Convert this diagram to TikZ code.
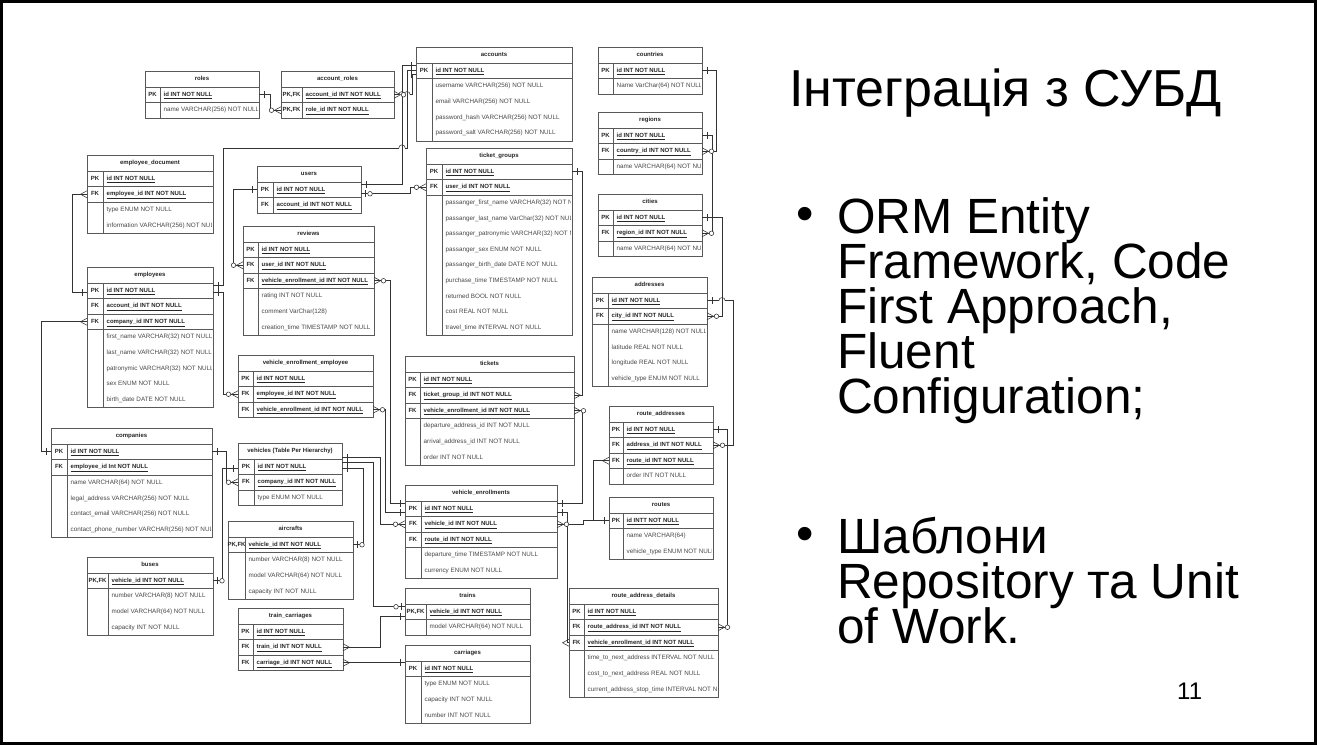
\documentclass[tikz,border=0pt]{standalone}
\usepackage{fontspec}
\setmainfont{Liberation Sans}
\usetikzlibrary{calc}
\def\pkfk{PK,FK}
\newcommand\tfont{\fontsize{6.0}{6.8}\selectfont}
\newcommand\pfont{\fontsize{6.3}{7}\selectfont}
\newcommand\bodyfont{\fontsize{49.5}{50}\selectfont}
\tikzset{
 tbl/.style={draw=black!65, line width=0.55pt},
 ttl/.style={tbl, inner sep=0pt, outer sep=0pt, minimum height=16pt, font=\tfont\bfseries, text=black!85, text height=4.4pt, text depth=1.2pt},
 krow/.style={tbl, inner sep=0pt, outer sep=0pt, minimum height=15.5pt},
 klbl/.style={inner sep=0pt, font=\tfont\bfseries, text=black!85, text height=4.4pt, text depth=1.2pt},
 ktxt/.style={inner sep=0pt, anchor=west, font=\tfont\bfseries, text=black!85, text height=4.4pt, text depth=1.2pt},
 ptxt/.style={inner sep=0pt, anchor=west, font=\pfont, text=black!72, text height=4.6pt, text depth=1.3pt},
 conn/.style={draw=black!80, line width=0.55pt},
 pone/.pic={\draw[conn] (5,-3.5) -- (5,3.5);},
 pmany/.pic={\draw[conn] (0,-3.5) -- (6.5,0) -- (0,3.5);},
 pzmany/.pic={\draw[conn] (0,-3.5) -- (6.5,0) -- (0,3.5); \draw[conn, fill=white] (9.5,0) circle (2.3pt);},
 pzone/.pic={\draw[conn] (4,-3.5) -- (4,3.5); \draw[conn, fill=white] (9,0) circle (2.3pt);},
 hop/.pic={\fill[white] (-3.2,-1.2) rectangle (3.2,1.2); \draw[conn] (0,-1.3) -- (0,1.3); \draw[conn] (-3.2,0) arc[start angle=180, end angle=0, radius=3.2pt];},
 slide/.style={inner sep=0pt, anchor=base west, text=black},
}
% #1 name, #2 x, #3 y, #4 width, #5 key column width, #6 title, #7 key rows, #8 plain rows
\newcommand\ertable[8]{%
 \node[ttl, minimum width=#4pt, anchor=north west] (#1) at (#2,#3) {#6};
 \foreach \ka/\kb [count=\ri] in {#7}{%
   \node[krow, minimum width=#4pt, anchor=north west] (#1-\ri) at ($(#1.south west)+(0,{(\ri-1)*15.5})$) {};
   \draw[tbl] ($(#1-\ri.north west)+(#5,0)$) -- ($(#1-\ri.south west)+(#5,0)$);
   \node[klbl] at ($(#1-\ri.west)+({#5/2},0)$) {\ka};
   \node[ktxt] at ($(#1-\ri.west)+({#5+3.5},0)$) {\underline{\kb}};
   \xdef\nk{\ri}%
 }%
 \def\plist{#8}%
 \ifx\plist\empty\else
   \coordinate (#1-pb) at ($(#1.south west)+(0,{\nk*15.5})$);
   \begin{scope}
     \clip (#1-pb) rectangle ++({#4-1.5},300);
     \foreach \pa [count=\rj] in {#8}{%
       \node[ptxt] at ($(#1-pb)+({#5+3.5},{(\rj-0.5)*15.6})$) {\pa};
       \xdef\np{\rj}%
     }%
   \end{scope}
   \draw[tbl] (#1-pb) rectangle ++(#4,{\np*15.6});
   \draw[tbl] ($(#1-pb)+(#5,0)$) -- ++(0,{\np*15.6});
 \fi
}
\begin{document}
\begin{tikzpicture}[x=1pt,y=-1pt]
\useasboundingbox (0,0) rectangle (1317,745);
\fill[white] (0,0) rectangle (1317,745);

% ---------- tables ----------
\ertable{roles}{145}{71}{114}{15}{roles}{PK/id INT NOT NULL}{name VARCHAR(256) NOT NULL}
\ertable{acr}{281}{71}{113}{21}{account\_roles}{\pkfk/account\_id INT NOT NULL,\pkfk/role\_id INT NOT NULL}{}
\ertable{acc}{416}{47}{156}{16}{accounts}{PK/id INT NOT NULL}{username VARCHAR(256) NOT NULL,email VARCHAR(256) NOT NULL,password\_hash VARCHAR(256) NOT NULL,password\_salt VARCHAR(256) NOT NULL}
\ertable{cty}{598}{47}{104}{15}{countries}{PK/id INT NOT NULL}{Name VarChar(64) NOT NULL}
\ertable{reg}{598}{112}{104}{15}{regions}{PK/id INT NOT NULL,FK/country\_id INT NOT NULL}{name VARCHAR(64) NOT NULL}
\ertable{cit}{598}{194}{104}{15}{cities}{PK/id INT NOT NULL,FK/region\_id INT NOT NULL}{name VARCHAR(64) NOT NULL}
\ertable{edoc}{87}{155}{126}{16}{employee\_document}{PK/id INT NOT NULL,FK/employee\_id INT NOT NULL}{type ENUM NOT NULL,information VARCHAR(256) NOT NULL}
\ertable{usr}{257}{166}{104}{16}{users}{PK/id INT NOT NULL,FK/account\_id INT NOT NULL}{}
\ertable{tg}{426}{148}{146}{16}{ticket\_groups}{PK/id INT NOT NULL,FK/user\_id INT NOT NULL}{passanger\_first\_name VARCHAR(32) NOT NULL,passanger\_last\_name VarChar(32) NOT NULL,passanger\_patronymic VARCHAR(32) NOT NULL,passanger\_sex ENUM NOT NULL,passanger\_birth\_date DATE NOT NULL,purchase\_time TIMESTAMP NOT NULL,returned BOOL NOT NULL,cost REAL NOT NULL,travel\_time INTERVAL NOT NULL}
\ertable{rev}{243}{226}{131}{15}{reviews}{PK/id INT NOT NULL,FK/user\_id INT NOT NULL,FK/vehicle\_enrollment\_id INT NOT NULL}{rating INT NOT NULL,comment VarChar(128),creation\_time TIMESTAMP NOT NULL}
\ertable{emp}{87}{267}{126}{16}{employees}{PK/id INT NOT NULL,FK/account\_id INT NOT NULL,FK/company\_id INT NOT NULL}{first\_name VARCHAR(32) NOT NULL,last\_name VARCHAR(32) NOT NULL,patronymic VARCHAR(32) NOT NULL,sex ENUM NOT NULL,birth\_date DATE NOT NULL}
\ertable{vee}{238}{355}{135}{15}{vehicle\_enrollment\_employee}{PK/id INT NOT NULL,FK/employee\_id INT NOT NULL,FK/vehicle\_enrollment\_id INT NOT NULL}{}
\ertable{tix}{405}{356}{169}{15}{tickets}{PK/id INT NOT NULL,FK/ticket\_group\_id INT NOT NULL,FK/vehicle\_enrollment\_id INT NOT NULL}{departure\_address\_id INT NOT NULL,arrival\_address\_id INT NOT NULL,order INT NOT NULL}
\ertable{adr}{592}{277}{115}{16}{addresses}{PK/id INT NOT NULL,FK/city\_id INT NOT NULL}{name VARCHAR(128) NOT NULL,latitude REAL NOT NULL,longitude REAL NOT NULL,vehicle\_type ENUM NOT NULL}
\ertable{comp}{51}{428}{161}{16}{companies}{PK/id INT NOT NULL,FK/employee\_id Int NOT NULL}{name VARCHAR(64) NOT NULL,legal\_address VARCHAR(256) NOT NULL,contact\_email VARCHAR(256) NOT NULL,contact\_phone\_number VARCHAR(256) NOT NULL}
\ertable{veh}{238}{443}{104}{16}{vehicles (Table Per Hierarchy)}{PK/id INT NOT NULL,FK/company\_id INT NOT NULL}{type ENUM NOT NULL}
\ertable{air}{228}{521}{125}{17}{aircrafts}{\pkfk/vehicle\_id INT NOT NULL}{number VARCHAR(8) NOT NULL,model VARCHAR(64) NOT NULL,capacity INT NOT NULL}
\ertable{bus}{87}{557}{126}{21}{buses}{\pkfk/vehicle\_id INT NOT NULL}{number VARCHAR(8) NOT NULL,model VARCHAR(64) NOT NULL,capacity INT NOT NULL}
\ertable{tc}{238}{608}{105}{15}{train\_carriages}{PK/id INT NOT NULL,FK/train\_id INT NOT NULL,FK/carriage\_id INT NOT NULL}{}
\ertable{ve}{405}{485}{152}{16}{vehicle\_enrollments}{PK/id INT NOT NULL,FK/vehicle\_id INT NOT NULL,FK/route\_id INT NOT NULL}{departure\_time TIMESTAMP NOT NULL,currency ENUM NOT NULL}
\ertable{trn}{405}{588}{125}{21}{trains}{\pkfk/vehicle\_id INT NOT NULL}{model VARCHAR(64) NOT NULL}
\ertable{car}{405}{645}{125}{16}{carriages}{PK/id INT NOT NULL}{type ENUM NOT NULL,capacity INT NOT NULL,number INT NOT NULL}
\ertable{ra}{609}{406}{104}{14}{route\_addresses}{PK/id INT NOT NULL,FK/address\_id INT NOT NULL,FK/route\_id INT NOT NULL}{order INT NOT NULL}
\ertable{rte}{609}{497}{104}{14}{routes}{PK/id INTT NOT NULL}{name VARCHAR(64),vehicle\_type ENUM NOT NULL}
\ertable{rad}{569}{588}{149}{15}{route\_address\_details}{PK/id INT NOT NULL,FK/route\_address\_id INT NOT NULL,FK/vehicle\_enrollment\_id INT NOT NULL}{time\_to\_next\_address INTERVAL NOT NULL,cost\_to\_next\_address REAL NOT NULL,current\_address\_stop\_time INTERVAL NOT NULL}

% ---------- ports ----------
\coordinate (accA) at ([yshift=5pt]acc-1.west);
\coordinate (accC) at ([yshift=-4pt]acc-1.west);
\coordinate (usrA) at ([yshift=5pt]usr-1.east);
\coordinate (usrB) at ([yshift=-4pt]usr-1.east);
\coordinate (empA) at ([yshift=5pt]emp-1.east);
\coordinate (empB) at ([yshift=-2pt]emp-1.west);
\coordinate (empC) at ([yshift=-2pt]emp-1.east);
\coordinate (vehA) at ([yshift=-2pt]veh-1.west);
\coordinate (vehB) at ([yshift=9pt]veh-1.east);
\coordinate (vehC) at ([yshift=4pt]veh-1.east);
\coordinate (vehD) at ([yshift=-2pt]veh-1.east);
\coordinate (veA) at ([yshift=5pt]ve-1.west);
\coordinate (veB) at ([yshift=-4pt]ve-1.west);
\coordinate (veC) at ([yshift=5pt]ve-1.east);
\coordinate (veD) at ([yshift=-4pt]ve-1.east);
\coordinate (trnA) at ([yshift=5pt]trn-1.west);
\coordinate (trnB) at ([yshift=-5pt]trn-1.west);
\coordinate (carA) at ([yshift=6pt]car-1.west);

% ---------- connectors ----------
\draw[conn] (roles-1.east) -- ++(11,0) |- (acr-2.west);
\draw[conn] (acr-1.east) -- ++(18,0) |- (accC);
\draw[conn] (usrA) -- ++(41,0) |- (accA);
\draw[conn] (empA) -| (223,148) -| ([xshift=-9pt]acc-1.west) -- (acc-1.west);
\draw[conn] (usrB) -- ++(49,0) |- (tg-2.west);
\draw[conn] (tg-1.east) -- ++(10,0) |- (tix-2.east);
\draw[conn] (usr-1.west) -- ++(-24,0) |- (rev-2.west);
\draw[conn] (rev-3.east) -- ++(16,0) |- (veA);
\draw[conn] (empB) -- ++(-15,0) |- (edoc-2.west);
\draw[conn] (empC) -- ++(10,0) |- (vee-2.west);
\draw[conn] (comp-1.west) -- ++(-10,0) |- (emp-3.west);
\draw[conn] (comp-1.east) -- ++(14,0) |- (veh-2.west);
\draw[conn] (bus-1.east) -- ++(9,0) |- (vehA);
\draw[conn] (vehB) -- ++(38,0) |- (ve-2.west);
\draw[conn] (vehC) -- ++(31,0) |- (trnA);
\draw[conn] (vehD) -- ++(21,0) |- (air-1.east);
\draw[conn] (vee-3.east) -- ++(12,0) |- (veB);
\draw[conn] (tc-2.east) -- ++(37,0) |- (trnB);
\draw[conn] (tc-3.east) -- (carA);
\draw[conn] (veC) -- ++(25,0) |- (tix-3.east);
\draw[conn] (veD) -- ++(10,0) |- (rad-3.west);
\draw[conn] (ve-2.east) -- ++(26,0) |- (rte-1.west);
\draw[conn] (rte-1.west) -- ++(-16,0) |- (ra-3.west);
\draw[conn] (cty-1.east) -- ++(14,0) |- (reg-2.east);
\draw[conn] (reg-1.east) -- ++(10,0) |- (cit-2.east);
\draw[conn] (cit-1.east) -- ++(20,0) |- (adr-2.east);
\draw[conn] (adr-1.east) -- ++(26,0) |- (ra-2.east);
\draw[conn] (ra-1.east) -- ++(14,0) |- (rad-2.east);

% ---------- line hops ----------
\pic at (402,148) {hop};
\pic at ($(acr-1.east)+(8,0)$) {hop};
\pic at ($(acr-1.east)+(13,0)$) {hop};
\pic at ($(adr-1.east)+(15,0)$) {hop};

% ---------- end markers ----------
\pic at (roles-1.east) {pone}; \pic[xscale=-1] at (acr-2.west) {pzmany};
\pic at (acr-1.east) {pzmany}; \pic[xscale=-1] at (accC) {pone};
\pic at (usrA) {pone}; \pic[xscale=-1] at (accA) {pone};
\pic at (empA) {pone}; \pic[xscale=-1] at (acc-1.west) {pone};
\pic at (usrB) {pzone}; \pic[xscale=-1] at (tg-2.west) {pzmany};
\pic at (tg-1.east) {pone}; \pic at (tix-2.east) {pmany};
\pic[xscale=-1] at (usr-1.west) {pone}; \pic[xscale=-1] at (rev-2.west) {pzmany};
\pic at (rev-3.east) {pzmany}; \pic[xscale=-1] at (veA) {pone};
\pic[xscale=-1] at (empB) {pone}; \pic[xscale=-1] at (edoc-2.west) {pmany};
\pic at (empC) {pone}; \pic[xscale=-1] at (vee-2.west) {pzmany};
\pic[xscale=-1] at (comp-1.west) {pone}; \pic[xscale=-1] at (emp-3.west) {pmany};
\pic at (comp-1.east) {pone}; \pic[xscale=-1] at (veh-2.west) {pzmany};
\pic at (bus-1.east) {pzone}; \pic[xscale=-1] at (vehA) {pone};
\pic at (vehB) {pone}; \pic[xscale=-1] at (ve-2.west) {pzmany};
\pic at (vehC) {pone}; \pic[xscale=-1] at (trnA) {pzone};
\pic at (vehD) {pone}; \pic at (air-1.east) {pzone};
\pic at (vee-3.east) {pzmany}; \pic[xscale=-1] at (veB) {pone};
\pic at (tc-2.east) {pmany}; \pic[xscale=-1] at (trnB) {pone};
\pic at (tc-3.east) {pmany}; \pic[xscale=-1] at (carA) {pone};
\pic at (veC) {pone}; \pic at (tix-3.east) {pzmany};
\pic at (veD) {pone}; \pic[xscale=-1] at (rad-3.west) {pmany};
\pic at (ve-2.east) {pzmany}; \pic[xscale=-1] at (rte-1.west) {pone};
\pic[xscale=-1] at (ra-3.west) {pmany};
\pic at (cty-1.east) {pone}; \pic at (reg-2.east) {pzmany};
\pic at (reg-1.east) {pone}; \pic at (cit-2.east) {pzmany};
\pic at (cit-1.east) {pone}; \pic at (adr-2.east) {pzmany};
\pic at (adr-1.east) {pone}; \pic at (ra-2.east) {pzmany};
\pic at (ra-1.east) {pone}; \pic at (rad-2.east) {pzmany};

% ---------- slide text ----------
\node[slide, font=\fontsize{52}{55}\selectfont] (t0) at (789,106) {Інтеграція з СУБД};
\node[slide, font=\bodyfont] (b1) at (796,230) {•};
\node[slide, font=\bodyfont] (l1) at (837,233) {ORM Entity};
\node[slide, font=\bodyfont] (l2) at (837,278) {Framework, Code};
\node[slide, font=\bodyfont] (l3) at (837,323) {First Approach,};
\node[slide, font=\bodyfont] (l4) at (837,368) {Fluent};
\node[slide, font=\bodyfont] (l5) at (837,413) {Configuration;};
\node[slide, font=\bodyfont] (b2) at (796,550) {•};
\node[slide, font=\bodyfont] (l6) at (837,553) {Шаблони};
\node[slide, font=\bodyfont] (l7) at (837,598) {Repository та Unit};
\node[slide, font=\bodyfont] (l8) at (837,643) {of Work.};
\node[slide, font=\fontsize{24}{26}\selectfont] (pg) at (1177,699) {11};

% ---------- frame ----------
\draw[line width=3pt] (1.5,1.5) rectangle (1315.5,743.5);
\end{tikzpicture}
\end{document}
